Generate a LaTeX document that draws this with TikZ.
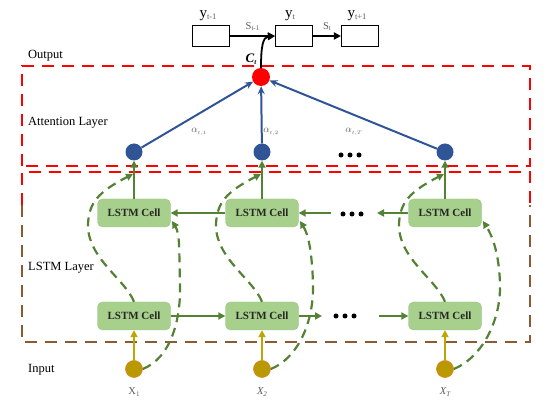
\documentclass[tikz,border=0pt]{standalone}
\usepackage{fontspec}
\setmainfont{Liberation Serif}
\usetikzlibrary{arrows.meta}
\definecolor{cellgreen}{RGB}{168,208,141}
\definecolor{arrgreen}{RGB}{84,130,53}
\definecolor{dotblue}{RGB}{47,85,151}
\definecolor{inpfill}{RGB}{184,154,0}
\definecolor{inpdraw}{RGB}{225,130,40}
\definecolor{inparr}{RGB}{190,165,0}
\definecolor{boxbrown}{RGB}{140,90,50}
\definecolor{labgray}{RGB}{90,90,90}
\tikzset{
  cell/.style={rounded corners=5pt, fill=cellgreen, draw=cellgreen!90!black, line width=0.3pt,
    minimum width=73pt, minimum height=28pt, inner sep=0pt, font=\fontsize{11}{12}\selectfont\bfseries, text=black!85},
  bdot/.style={circle, fill=dotblue, minimum size=17pt, inner sep=0pt},
  rdot/.style={circle, fill=red, minimum size=18pt, inner sep=0pt},
  idot/.style={circle, fill=inpfill, draw=inpdraw, line width=0.6pt, minimum size=17pt, inner sep=0pt},
  obox/.style={draw=black, line width=1.1pt, minimum width=37pt, minimum height=21pt, inner sep=0pt},
  garr/.style={draw=arrgreen, line width=2pt, -{Triangle[length=7pt,width=7pt]}},
  iarr/.style={draw=inparr, line width=2pt, -{Triangle[length=7pt,width=7pt]}},
  barr/.style={draw=dotblue, line width=2pt, -{Stealth[length=8pt,width=7pt]}},
  karr/.style={draw=black, line width=1.8pt, -{Triangle[length=7pt,width=7pt]}},
  gdash/.style={draw=arrgreen, line width=2.2pt, dash pattern=on 9pt off 6pt, -{Triangle[length=7pt,width=7pt]}},
  rdash/.style={draw=red, line width=2pt, dash pattern=on 12pt off 8pt},
  ndash/.style={draw=boxbrown, line width=2pt, dash pattern=on 12pt off 8pt},
  lab/.style={font=\fontsize{12.5}{14}\selectfont, anchor=west, inner sep=0pt},
  dots/.style={circle, fill=black, minimum size=5pt, inner sep=0pt},
}
\begin{document}
\begin{tikzpicture}[x=1pt,y=-1pt]
\useasboundingbox (0,0) rectangle (550,403);
% dashed boxes
\draw[rdash] (22,166) -- (22,66) -- (530,66) -- (530,166) -- cycle;
\draw[rdash] (22,205) -- (22,172) -- (530,172) -- (530,205);
\draw[ndash] (22,205) -- (22,342) -- (530,342) -- (530,205);
% layer labels
\node[lab] (lout) at (28,56) {Output};
\node[lab] (latt) at (28,123) {Attention Layer};
\node[lab] (llstm) at (28,268) {LSTM Layer};
\node[lab] (linp) at (28,370) {Input};
% output boxes
\node[obox] (y1) at (211,36) {};
\node[obox] (y2) at (294,36) {};
\node[obox] (y3) at (360,36) {};
\node[inner sep=0pt] (ly1) at (208,16) {\fontsize{15}{15}\selectfont y\textcolor{labgray}{\raisebox{-2pt}{\fontsize{8.5}{8.5}\selectfont t-1}}};
\node[inner sep=0pt] (ly2) at (290,16) {\fontsize{15}{15}\selectfont y\textcolor{labgray}{\raisebox{-2pt}{\fontsize{8.5}{8.5}\selectfont t}}};
\node[inner sep=0pt] (ly3) at (357,16) {\fontsize{15}{15}\selectfont y\textcolor{labgray}{\raisebox{-2pt}{\fontsize{8.5}{8.5}\selectfont t+1}}};
\draw[karr] (y1) -- node[above=1pt, text=labgray, font=\fontsize{10.5}{10.5}\selectfont] {S\raisebox{-1.5pt}{\fontsize{7}{7}\selectfont t-1}} (y2);
\draw[karr] (y2) -- node[above=1pt, text=labgray, font=\fontsize{10.5}{10.5}\selectfont] {S\raisebox{-1.5pt}{\fontsize{7}{7}\selectfont t}} (y3);
% attention
\node[rdot] (r) at (261,77) {};
\draw[karr] (r.north) .. controls (261,46) and (263,37) .. (y2.west);
\node[inner sep=0pt] (ct) at (251,59) {\fontsize{13}{13}\selectfont\bfseries\itshape C\raisebox{-2pt}{\fontsize{7}{7}\selectfont t}};
% columns
\foreach \n/\xc/\bb in {1/134/47, 2/262/52, 3/445/56}{
  \node[bdot] (b\n) at (\xc,152) {};
  \node[cell] (u\n) at (\xc,213) {LSTM Cell};
  \node[cell] (l\n) at (\xc,316) {LSTM Cell};
  \node[idot] (i\n) at (\xc,369) {};
}
\foreach \n in {1,2,3}{
  \draw[garr] (u\n) -- (b\n);
  \draw[iarr] (i\n) -- (l\n);
  \draw[barr] (b\n) -- (r);
}
% dots
\foreach \x/\y in {341/155, 350/155, 359/155, 343/214, 352/214, 361/214, 336/316, 345/316, 354/316}{
  \node[dots] at (\x,\y) {};
}
% attention weights
\node[text=labgray, font=\fontsize{10}{10}\selectfont] (a1) at (199,132) {$\alpha_{\scriptscriptstyle t,1}$};
\node[text=labgray, font=\fontsize{10}{10}\selectfont] (a2) at (271,132) {$\alpha_{\scriptscriptstyle t,2}$};
\node[text=labgray, font=\fontsize{10}{10}\selectfont] (a3) at (354,132) {$\alpha_{\scriptscriptstyle t,T}$};
% horizontal arrows
\coordinate (hu1) at (331,213);
\coordinate (hu2) at (377,213);
\coordinate (hl1) at (322,316);
\coordinate (hl2) at (379,316);
\draw[garr] (u2.west) -- (u1.east);
\draw[garr] (hu1) -- (u2.east);
\draw[garr] (u3.west) -- (hu2);
\draw[garr] (l1.east) -- (l2.west);
\draw[garr] (l2.east) -- (hl1);
\draw[garr] (hl2) -- (l3.west);
% dashed skip curves
\foreach \n/\xc/\bb in {1/134/47, 2/262/52, 3/445/56}{
  \coordinate (ta\n) at (\xc-1,174);
  \coordinate (tb\n) at (\xc+38,221);
  \draw[gdash] (l\n.north) .. controls (\xc-8,280) and (\xc-47,258) .. (\xc-46,224) .. controls (\xc-45,203) and (\xc-36,192) .. (ta\n);
  \draw[gdash] (i\n.east) .. controls (\xc+36,358) and (\xc+\bb,322) .. (\xc+\bb-1,284) .. controls (\xc+\bb-2,250) and (\xc+46,234) .. (tb\n);
}
% input labels
\node[text=labgray, font=\fontsize{10.5}{10.5}\selectfont] (x1) at (134,392) {X\raisebox{-2pt}{\fontsize{7}{7}\selectfont 1}};
\node[text=labgray, font=\fontsize{10.5}{10.5}\selectfont] (x2) at (262,392) {\itshape X\raisebox{-2pt}{\fontsize{7}{7}\selectfont 2}};
\node[text=labgray, font=\fontsize{10.5}{10.5}\selectfont] (x3) at (445,392) {\itshape X\raisebox{-2pt}{\fontsize{7}{7}\selectfont T}};
\end{tikzpicture}
\end{document}
